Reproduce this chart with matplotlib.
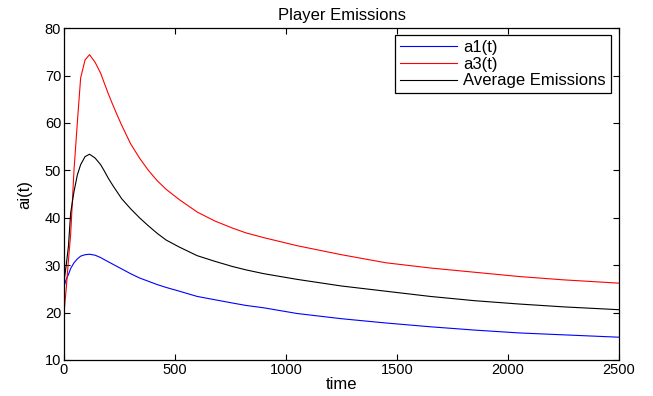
import matplotlib
matplotlib.use("Agg")
import matplotlib.pyplot as plt

# valeurs
temps = [0, 10, 20, 30, 45, 60, 75, 95, 115, 140, 165, 180, 200, 220, 240,
         260, 300, 340, 380, 420, 460, 520, 600, 680, 760, 820, 900, 1050,
         1250, 1450, 1650, 1850, 2050, 2250, 2500]
a1 = [25.5, 27.0, 28.0, 29.3, 30.5, 31.3, 31.9, 32.2, 32.3, 32.1, 31.6, 31.2,
      30.7, 30.2, 29.7, 29.2, 28.2, 27.3, 26.6, 25.9, 25.3, 24.5, 23.4, 22.7,
      22.0, 21.5, 21.0, 19.8, 18.7, 17.8, 17.0, 16.3, 15.7, 15.3, 14.8]
a3 = [20.0, 25.0, 31.0, 36.5, 50.0, 60.0, 69.5, 73.3, 74.4, 72.8, 70.5, 68.6,
      66.1, 63.8, 61.6, 59.5, 55.6, 52.6, 50.0, 47.8, 46.0, 43.8, 41.2, 39.3,
      37.8, 36.8, 35.8, 34.1, 32.2, 30.5, 29.4, 28.5, 27.6, 26.9, 26.2]
moyenne = [26.5, 30.0, 34.0, 41.0, 45.5, 49.0, 51.2, 52.9, 53.4, 52.6, 51.2,
           50.0, 48.3, 46.8, 45.4, 44.0, 41.9, 40.0, 38.3, 36.7, 35.3, 33.8,
           32.0, 30.8, 29.7, 29.0, 28.2, 27.0, 25.6, 24.5, 23.4, 22.5, 21.8,
           21.2, 20.6]

plt.rcParams['font.family'] = ['Liberation Sans', 'DejaVu Sans']
plt.rcParams['font.size'] = 10

fig = plt.figure(figsize=(6.53, 3.96), dpi=100)
ax = fig.add_axes([0.098, 0.091, 0.850, 0.838])

ax.plot(temps, a1, color='blue', lw=0.8, label='a1(t)')
ax.plot(temps, a3, color='red', lw=0.8, label='a3(t)')
ax.plot(temps, moyenne, color='black', lw=0.8, label='Average Emissions')

ax.set_xlim(0, 2500)
ax.set_ylim(10, 80)
ax.set_xticks([0, 500, 1000, 1500, 2000, 2500])
ax.set_yticks([10, 20, 30, 40, 50, 60, 70, 80])
ax.tick_params(direction='in', top=True, right=True, length=4, width=0.8,
               pad=2, labelsize=10.5)
for s in ax.spines.values():
    s.set_linewidth(0.9)

ax.set_title("Player Emissions", fontsize=12, pad=6)
ax.set_xlabel("time", fontsize=12, labelpad=0)
ax.set_ylabel("ai(t)", fontsize=12, labelpad=9)

leg = ax.legend(loc='upper right', bbox_to_anchor=(0.9856, 0.979),
                borderaxespad=0, fancybox=False, framealpha=1,
                edgecolor='black', fontsize=12, handlelength=3.4,
                borderpad=0.3, labelspacing=0.1, handletextpad=0.4)
leg.get_frame().set_linewidth(0.9)

fig.savefig("out.png", dpi=100)
